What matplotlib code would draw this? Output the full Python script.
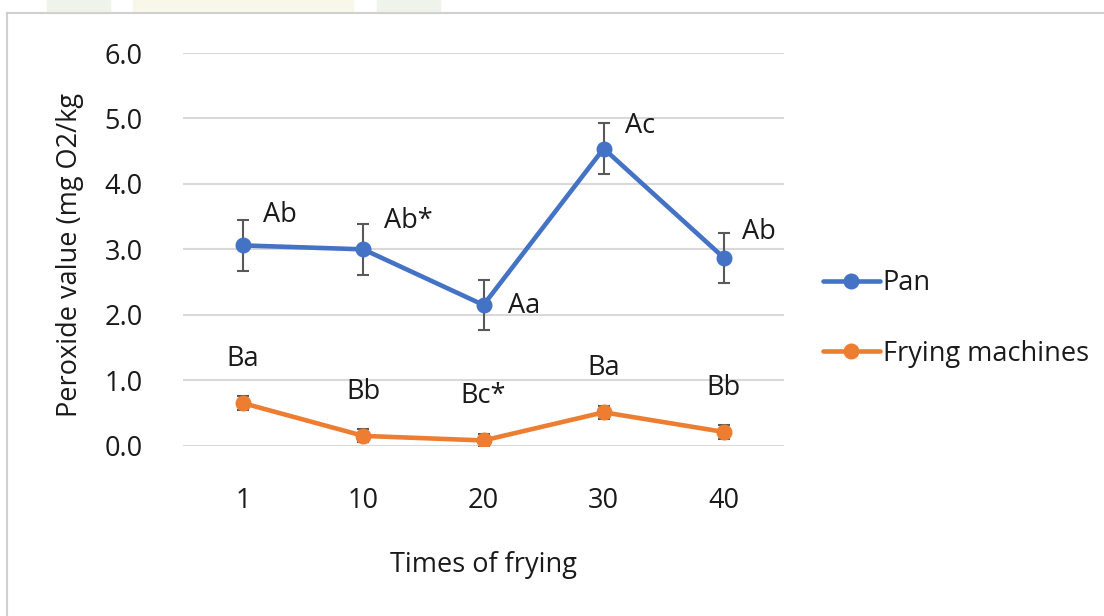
import matplotlib
matplotlib.use("Agg")
import matplotlib.pyplot as plt
from matplotlib.lines import Line2D
from matplotlib.patches import Rectangle

plt.rcParams['font.family'] = ['Open Sans', 'DejaVu Sans']

# ---- data ----
categories = ["1", "10", "20", "30", "40"]
pan_values = [3.06, 3.00, 2.15, 4.54, 2.87]
pan_err = [0.39, 0.39, 0.38, 0.39, 0.38]
pan_labels = ["Ab", "Ab*", "Aa", "Ac", "Ab"]
fry_values = [0.65, 0.15, 0.08, 0.51, 0.21]
fry_err = [0.11, 0.10, 0.10, 0.10, 0.11]
fry_labels = ["Ba", "Bb", "Bc*", "Ba", "Bb"]
series_names = ["Pan", "Frying machines"]
y_ticks = [0.0, 1.0, 2.0, 3.0, 4.0, 5.0, 6.0]

# ---- style ----
BLUE = "#4472C4"
ORANGE = "#ED7D31"
ERR = "#595959"
GRID = "#D9D9D9"
TXT = "#1a1a1a"
FS = 19.5

W, H = 1104, 616
fig = plt.figure(figsize=(W / 100, H / 100), dpi=100)

# faint decorative strip on top
for (x0, x1, c) in [(47, 110, "#EEF4EA"), (133, 353, "#F9F6EA"), (377, 440, "#EEF4EA")]:
    fig.patches.append(Rectangle((x0 / W, 1 - 13 / H), (x1 - x0) / W, 13 / H,
                                 transform=fig.transFigure, color=c, zorder=0))
# chart border
fig.lines.append(Line2D([7 / W, 7 / W], [0, 1 - 13 / H], transform=fig.transFigure,
                        color="#D0D0D0", lw=1.5))
fig.lines.append(Line2D([7 / W, 1], [1 - 13 / H, 1 - 13 / H], transform=fig.transFigure,
                        color="#D0D0D0", lw=1.5))

left, right = 183, 784
top, bottom = 53, 445.7
ax = fig.add_axes([left / W, 1 - bottom / H, (right - left) / W, (bottom - top) / H])

x = list(range(len(categories)))

ax.errorbar(x, pan_values, yerr=pan_err, fmt='none', ecolor=ERR, elinewidth=1.5,
            capsize=4, capthick=1.5, zorder=2)
ax.errorbar(x, fry_values, yerr=fry_err, fmt='none', ecolor=ERR, elinewidth=1.5,
            capsize=4, capthick=1.5, zorder=2)
ax.plot(x, pan_values, color=BLUE, lw=3.3, marker='o', ms=10.5, label=series_names[0],
        zorder=3, solid_capstyle='round')
ax.plot(x, fry_values, color=ORANGE, lw=3.3, marker='o', ms=10.5, label=series_names[1],
        zorder=3, solid_capstyle='round')

# data labels
pan_offsets = [(20, 30), (21, 28), (24, -1), (21, 23), (18, 26)]
for xi, v, lab, off in zip(x, pan_values, pan_labels, pan_offsets):
    ax.annotate(lab, (xi, v), xytext=off, textcoords='offset pixels',
                ha='left', va='center', fontsize=FS, color=TXT)
for xi, v, lab in zip(x, fry_values, fry_labels):
    ax.annotate(lab, (xi, v), xytext=(0, 44), textcoords='offset pixels',
                ha='center', va='center', fontsize=FS, color=TXT)

ax.set_xlim(-0.5, len(categories) - 0.5)
ax.set_ylim(0, 6)
ax.set_yticks(y_ticks)
ax.set_yticklabels([f"{t:.1f}" for t in y_ticks], fontsize=FS, color=TXT)
ax.set_xticks(x)
ax.set_xticklabels(categories, fontsize=FS, color=TXT)
ax.tick_params(axis='both', length=0)
ax.tick_params(axis='y', pad=29)
ax.tick_params(axis='x', pad=29.5)
ax.grid(axis='y', color=GRID, lw=1.5)
ax.set_axisbelow(True)
for s in ax.spines.values():
    s.set_visible(False)

fig.text(483 / W, 1 - 572 / H, "Times of frying", ha='center', va='baseline',
         fontsize=FS, color=TXT)
fig.text(70 / W, 1 - 255 / H, "Peroxide value (mg O2/kg", rotation=90,
         ha='center', va='center', fontsize=FS, color=TXT)

leg = fig.legend(loc='center left', bbox_to_anchor=(823 / W, 1 - 318.5 / H),
                 frameon=False, fontsize=FS, handlelength=2.1, handletextpad=0.11,
                 labelspacing=1.58, borderpad=0, borderaxespad=0, labelcolor=TXT)

fig.savefig("out.png", dpi=100, facecolor="white")
